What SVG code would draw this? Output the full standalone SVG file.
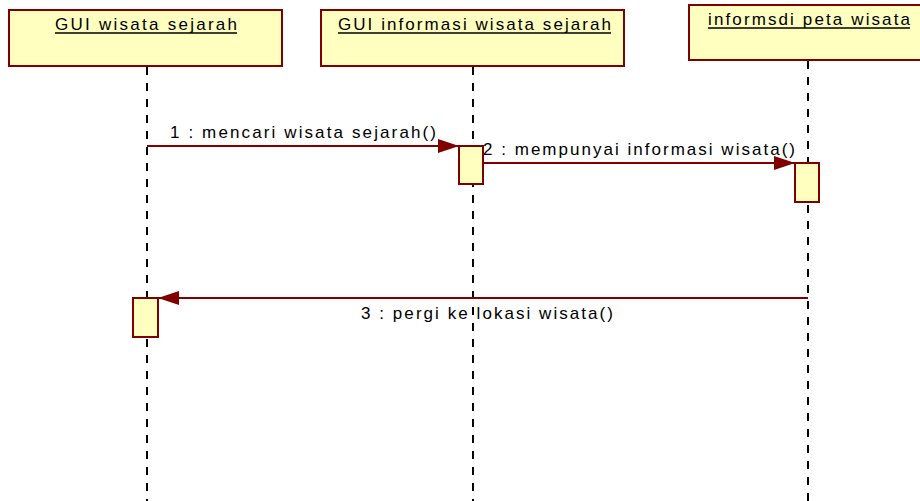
<svg xmlns="http://www.w3.org/2000/svg" width="920" height="501" viewBox="0 0 920 501">
  <style>
    .obj { fill: #FFFFC0; stroke: #800000; stroke-width: 2; }
    .act { fill: #FFFFC0; stroke: #800000; stroke-width: 2; }
    .life { stroke: #000; stroke-width: 2; stroke-dasharray: 8 8; fill: none; }
    .msg { stroke: #800000; stroke-width: 2; fill: none; }
    .uline { stroke: #000; stroke-width: 1.5; }
    .title, .label { font-family: "Liberation Sans", Arial, sans-serif; font-size: 17px; fill: #000; }
  </style>
  <defs>
    <marker id="arrow" markerUnits="userSpaceOnUse" markerWidth="22" markerHeight="14" refX="21" refY="7" orient="auto">
      <path d="M0,0 L21,7 L0,14 Z" fill="#800000"/>
    </marker>
  </defs>

  <!-- lifelines -->
  <g id="lifelines">
    <line class="life" x1="147" y1="67" x2="147" y2="501"/>
    <line class="life" x1="473" y1="67" x2="473" y2="501"/>
    <line class="life" x1="808" y1="61" x2="808" y2="501"/>
  </g>

  <g id="obj-gui-wisata">
    <rect class="obj" x="9" y="10" width="273" height="56"/>
    <text class="title" x="55" y="30" textLength="182" lengthAdjust="spacing">GUI wisata sejarah</text>
    <line class="uline" x1="55" y1="33" x2="237" y2="33"/>
  </g>
  <g id="obj-gui-informasi">
    <rect class="obj" x="321" y="10" width="303" height="56"/>
    <text class="title" x="338" y="30" textLength="273" lengthAdjust="spacing">GUI informasi wisata sejarah</text>
    <line class="uline" x1="338" y1="33" x2="611" y2="33"/>
  </g>
  <g id="obj-peta">
    <rect class="obj" x="689" y="5" width="240" height="55"/>
    <text class="title" x="708" y="25" textLength="202" lengthAdjust="spacing">informsdi peta wisata</text>
    <line class="uline" x1="708" y1="28" x2="910" y2="28"/>
  </g>

  <!-- activation bars -->
  <g id="activations">
    <rect class="act" x="459" y="146" width="24" height="38"/>
    <rect class="act" x="795" y="163" width="24" height="39"/>
    <rect class="act" x="133" y="298" width="25" height="39"/>
  </g>

  <!-- messages -->
  <g id="connectors">
    <line class="msg" x1="147" y1="146" x2="459" y2="146" marker-end="url(#arrow)"/>
    <line class="msg" x1="483" y1="163" x2="795" y2="163" marker-end="url(#arrow)"/>
    <line class="msg" x1="808" y1="298" x2="158" y2="298" marker-end="url(#arrow)"/>
    <text class="label" x="170" y="138" textLength="266" lengthAdjust="spacing">1 : mencari wisata sejarah()</text>
    <text class="label" x="483" y="155" textLength="312" lengthAdjust="spacing">2 : mempunyai informasi wisata()</text>
    <text class="label" x="361" y="319" textLength="252" lengthAdjust="spacing">3 : pergi ke lokasi wisata()</text>
  </g>
</svg>
